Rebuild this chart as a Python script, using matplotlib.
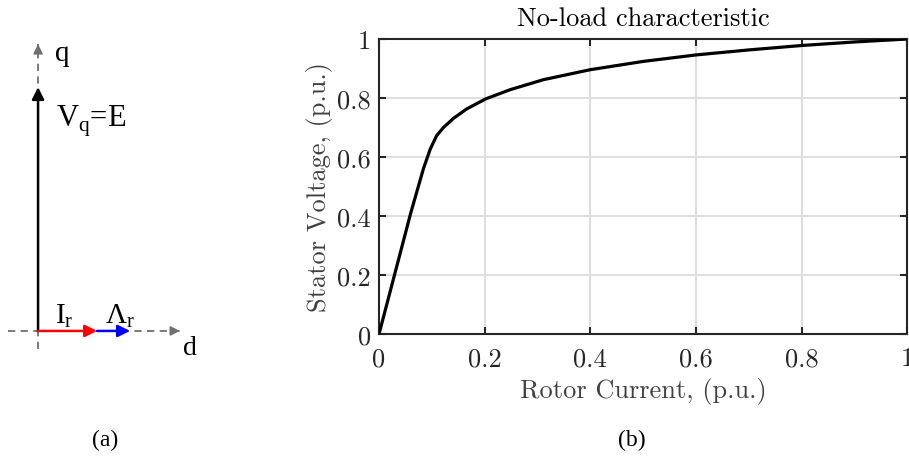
import matplotlib.pyplot as plt

# no-load (open-circuit) characteristic, per unit
rotor_current = [0, 0.03, 0.06, 0.084, 0.097, 0.109, 0.122, 0.141, 0.166, 0.202,
                 0.248, 0.311, 0.4, 0.5, 0.6, 0.7, 0.8, 0.9, 1.0]
stator_voltage = [0, 0.205, 0.41, 0.56, 0.627, 0.672, 0.700, 0.731, 0.763, 0.797,
                  0.828, 0.862, 0.896, 0.924, 0.946, 0.963, 0.978, 0.99, 1.0]
x_ticks = [0, 0.2, 0.4, 0.6, 0.8, 1]
y_ticks = [0, 0.2, 0.4, 0.6, 0.8, 1]
x_tick_labels = ['0', '0.2', '0.4', '0.6', '0.8', '1']
y_tick_labels = ['0', '0.2', '0.4', '0.6', '0.8', '1']

# phasor lengths for the dq diagram (V_q normalised to 1)
v_q = 1.0
i_r = 0.242
lambda_r = 0.135
d_axis = (-0.123, 0.582)
q_axis = (-0.074, 1.176)

plt.rcParams['font.family'] = 'cmr10'
plt.rcParams['axes.formatter.use_mathtext'] = True

fig = plt.figure(figsize=(9.09, 4.6), dpi=100)

# ---- (a) dq phasor diagram ----
axa = fig.add_axes([0.0, 0.1957, 0.231, 0.739])
axa.set_xlim(-0.156, 0.705)
axa.set_ylim(-0.156, 1.238)
axa.axis('off')

grey = '#707070'
axa.plot(d_axis, [0, 0], ls='--', color=grey, lw=1.3, dashes=(4, 3))
axa.plot([0, 0], q_axis, ls='--', color=grey, lw=1.3, dashes=(4, 3))
axa.annotate('', xy=(d_axis[1], 0), xytext=(d_axis[1] - 0.02, 0),
             arrowprops=dict(arrowstyle='-|>', color=grey, lw=1.2, mutation_scale=14))
axa.annotate('', xy=(0, q_axis[1]), xytext=(0, q_axis[1] - 0.02),
             arrowprops=dict(arrowstyle='-|>', color=grey, lw=1.2, mutation_scale=14))

axa.annotate('', xy=(0, v_q), xytext=(0, 0),
             arrowprops=dict(arrowstyle='-|>', color='black', lw=1.8,
                             mutation_scale=18, shrinkA=0, shrinkB=0))
axa.annotate('', xy=(i_r, 0), xytext=(0, 0),
             arrowprops=dict(arrowstyle='-|>', color='red', lw=1.8,
                             mutation_scale=18, shrinkA=0, shrinkB=0))
axa.annotate('', xy=(i_r + lambda_r, 0), xytext=(i_r, 0),
             arrowprops=dict(arrowstyle='-|>', color='blue', lw=1.8,
                             mutation_scale=18, shrinkA=0, shrinkB=0))

serif = 'Liberation Serif'
axa.text(0.07, 1.109, 'q', family=serif, fontsize=21, ha='left', va='baseline')
axa.text(0.594, -0.094, 'd', family=serif, fontsize=20, ha='left', va='baseline')
axa.text(0.072, 0.84, r'V$_\mathregular{q}$=E', family=serif, fontsize=22,
         ha='left', va='baseline')
axa.text(0.07, 0.037, r'I$_\mathregular{r}$', family=serif, fontsize=21,
         ha='left', va='baseline')
axa.text(0.275, 0.037, r'$\mathregular{\Lambda}_\mathregular{r}$', family=serif,
         fontsize=21, ha='left', va='baseline')

fig.text(105 / 909, 1 - 440 / 460, '(a)', family=serif, fontsize=17,
         ha='center', va='center')
fig.text(632 / 909, 1 - 440 / 460, '(b)', family=serif, fontsize=17,
         ha='center', va='center')

# ---- (b) no-load characteristic ----
ax = fig.add_axes([0.417, 0.272, 0.581, 0.641])
ax.plot(rotor_current, stator_voltage, color='black', lw=2.3,
        solid_joinstyle='round', zorder=3)
ax.set_xlim(0, 1)
ax.set_ylim(0, 1)
ax.set_xticks(x_ticks)
ax.set_xticklabels(x_tick_labels)
ax.set_yticks(y_ticks)
ax.set_yticklabels(y_tick_labels)
ax.grid(True, color='#dedede', lw=1.4)
ax.set_axisbelow(True)

axis_col = '#262626'
for s in ax.spines.values():
    s.set_color(axis_col)
    s.set_linewidth(1.5)
ax.tick_params(direction='in', length=5, width=1.5, colors=axis_col,
               top=True, right=True, labelsize=19)
ax.tick_params(axis='x', pad=9)
ax.tick_params(axis='y', pad=6)
ax.set_xlabel('Rotor Current, (p.u.)', fontsize=19, color='#404040', labelpad=5)
ax.set_ylabel('Stator Voltage, (p.u.)', fontsize=19, color='#404040', labelpad=3)
ax.set_title('No-load characteristic', fontsize=19, color='black', pad=10)

fig.savefig('out.png', dpi=100)
